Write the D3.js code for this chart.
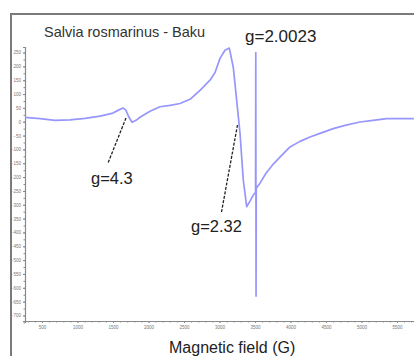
<!DOCTYPE html>
<html>
<head>
<meta charset="utf-8">
<script src="https://cdn.jsdelivr.net/npm/d3@7/dist/d3.min.js"></script>
<style>
    body { margin: 0; background: #fff; }
    svg { display: block; font-family: "Liberation Sans", Arial, sans-serif; }
</style>
</head>
<body>
<div id="chart"></div>
<script>
// spectrum: field (G) and signal
const fieldG = [260, 472, 683, 894, 1106, 1317, 1486, 1570, 1641, 1683, 1725, 1768, 1824, 1880,
    2021, 2162, 2303, 2444, 2585, 2725, 2866, 2937, 3007, 3077, 3138, 3194, 3242, 3289, 3335,
    3383, 3430, 3476, 3508, 3511, 3515, 3518, 3570, 3655, 3758, 3852, 3993, 4134, 4275, 4415,
    4603, 4768, 4979, 5162, 5355, 5542, 5739];
const signal = [16, 11, 5, 7, 12, 20, 30, 41, 50, 41, 16, -2, 5, 16,
    38, 54, 59, 66, 81, 113, 150, 178, 229, 258, 266, 197, 77, -42, -211,
    -307, -287, -265, -255, 250, -630, -240, -222, -186, -153, -128, -91, -71, -55, -42,
    -25, -13, -1, 5, 11, 11, 11];
const xTicks = [500, 1000, 1500, 2000, 2500, 3000, 3500, 4000, 4500, 5000, 5500];
const yTicks = d3.range(250, -701, -50);
const annotations = [
    { text: 'g=4.3', x: 91, y: 184, line: [[126, 118], [108, 163]] },
    { text: 'g=2.32', x: 191, y: 232, line: [[237.5, 125], [221.5, 212]] },
    { text: 'g=2.0023', x: 245, y: 42, line: null }
];

const W = 414, H = 356;
const svg = d3.select('#chart').append('svg').attr('width', W).attr('height', H);

// outer frame, runs past the right and bottom edge
svg.append('rect')
    .attr('x', 11).attr('y', 14).attr('width', 420).attr('height', 360)
    .attr('fill', 'none').attr('stroke', '#7a7a7a').attr('stroke-width', 2);

const x = d3.scaleLinear().domain([260, 5740]).range([25, 414]);
const y = d3.scaleLinear().domain([-720, 270]).range([321, 47]);

// axes
const xAxis = svg.append('g').attr('transform', 'translate(0,321)')
    .call(d3.axisBottom(x).tickValues(xTicks).tickSize(2).tickPadding(3).tickFormat(d3.format('d')));
svg.append('g').attr('transform', 'translate(0,321)')
    .call(d3.axisBottom(x).tickValues(d3.range(300, 5740, 100)).tickSize(1.5).tickFormat(''))
    .select('.domain').remove();
const yAxis = svg.append('g').attr('transform', 'translate(25,0)')
    .call(d3.axisLeft(y).tickValues(yTicks).tickSize(2).tickPadding(2).tickFormat(d3.format('d')));
svg.append('g').attr('transform', 'translate(25,0)')
    .call(d3.axisLeft(y).tickValues(d3.range(-725, 270, 25)).tickSize(1.5).tickFormat(''))
    .select('.domain').remove();

svg.selectAll('.domain').attr('stroke', '#8a8a8a').attr('stroke-width', 1.2);
svg.selectAll('.tick line').attr('stroke', '#8a8a8a');
svg.selectAll('.tick text').attr('fill', '#777').style('font-size', '4.5px');

// spectrum
const pts = fieldG.map((g, i) => [g, signal[i]]);
svg.append('path')
    .datum(pts)
    .attr('fill', 'none')
    .attr('stroke', '#9797fb')
    .attr('stroke-width', 1.7)
    .attr('stroke-linejoin', 'round')
    .attr('d', d3.line().x(d => x(d[0])).y(d => y(d[1])));

// title
svg.append('text')
    .attr('x', 44).attr('y', 36.5)
    .style('font-size', '14.5px').attr('fill', '#333')
    .text('Salvia rosmarinus - Baku');

// g-value notes
annotations.forEach(a => {
    if (a.line) {
        svg.append('line')
            .attr('x1', a.line[0][0]).attr('y1', a.line[0][1])
            .attr('x2', a.line[1][0]).attr('y2', a.line[1][1])
            .attr('stroke', '#222').attr('stroke-width', 1.3)
            .attr('stroke-dasharray', '3,1.5');
    }
    svg.append('text')
        .attr('x', a.x).attr('y', a.y)
        .style('font-size', a.text === 'g=2.0023' ? '17px' : '16.5px')
        .attr('fill', '#222')
        .text(a.text);
});

svg.append('text')
    .attr('x', 169).attr('y', 353)
    .style('font-size', '16px').attr('fill', '#222')
    .text('Magnetic field (G)');
</script>
</body>
</html>
